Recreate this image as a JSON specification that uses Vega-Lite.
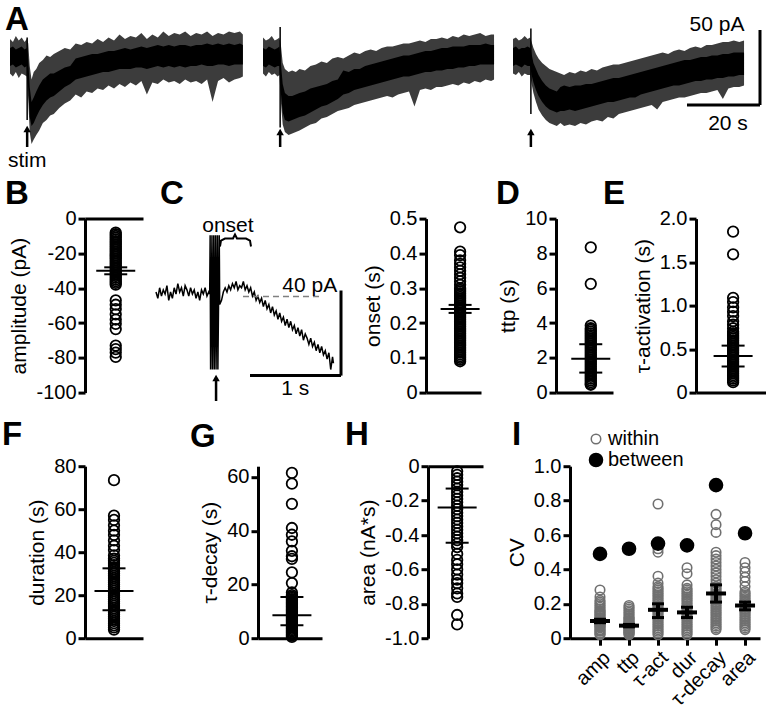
{
"$schema":"https://vega.github.io/schema/vega-lite/v6.json",
"padding":{"left":2,"top":4,"right":0,"bottom":0},
"spacing":5.6,
"config":{
 "view":{"stroke":null},
 "font":"Liberation Sans",
 "axis":{"domainColor":"black","domainWidth":3,"tickColor":"black","tickWidth":3,"tickSize":7,"labelFontSize":20,"labelColor":"black","labelFont":"Liberation Sans","titleFont":"Liberation Sans","titleFontSize":21,"titleFontWeight":"normal","titleColor":"black","grid":false,"labelPadding":2,"titlePadding":6,"labelOverlap":false,"labelFlush":false,"tickCount":12},
 "title":{"fontSize":33,"fontWeight":"bold","anchor":"start","frame":"group","offset":0,"baseline":"alphabetic","color":"black","font":"Liberation Sans"},
 "text":{"font":"Liberation Sans","fontSize":21,"color":"black"}
},
"datasets":{
"tr1":[
{"t":0,"lo":-11,"hi":12,"clo":-6,"chi":6},{"t":0.8,"lo":-13,"hi":10,"clo":-5,"chi":7},{"t":1.6,"lo":-10,"hi":14,"clo":-7,"chi":5},{"t":2.4,"lo":-14,"hi":11,"clo":-6,"chi":6},{"t":3.2,"lo":-11,"hi":13,"clo":-5,"chi":7},{"t":4.0,"lo":-12,"hi":10,"clo":-7,"chi":5},{"t":4.6,"lo":-13,"hi":12,"clo":-6,"chi":6},{"t":5.0,"lo":-28,"hi":9,"clo":-22,"chi":-2},{"t":5.4,"lo":-50,"hi":-6,"clo":-40,"chi":-20},{"t":5.9,"lo":-58,"hi":-15,"clo":-46,"chi":-30},{"t":6.5,"lo":-55,"hi":-10,"clo":-44,"chi":-27},{"t":7.2,"lo":-52,"hi":-8,"clo":-40,"chi":-23},{"t":8.0,"lo":-49,"hi":-4,"clo":-36,"chi":-19},{"t":9.0,"lo":-44,"hi":-2,"clo":-32,"chi":-15},{"t":10,"lo":-42,"hi":1,"clo":-29,"chi":-13},{"t":11,"lo":-39,"hi":0,"clo":-27,"chi":-11},{"t":12,"lo":-38,"hi":2,"clo":-26,"chi":-11},{"t":13.5,"lo":-34,"hi":4,"clo":-23,"chi":-9},{"t":15,"lo":-31,"hi":6,"clo":-20,"chi":-7},{"t":16.5,"lo":-29,"hi":5,"clo":-18,"chi":-6},{"t":18,"lo":-25,"hi":9,"clo":-15,"chi":-1},{"t":19.5,"lo":-27,"hi":8,"clo":-14,"chi":0},{"t":21,"lo":-23,"hi":10,"clo":-13,"chi":1},{"t":22.5,"lo":-24,"hi":9,"clo":-12,"chi":2},{"t":24,"lo":-21,"hi":12,"clo":-11,"chi":2},{"t":25.5,"lo":-22,"hi":10,"clo":-10,"chi":3},{"t":27,"lo":-19,"hi":13,"clo":-10,"chi":4},{"t":28.5,"lo":-21,"hi":11,"clo":-9,"chi":4},{"t":30,"lo":-18,"hi":15,"clo":-8,"chi":5},{"t":31.5,"lo":-20,"hi":12,"clo":-8,"chi":6},{"t":33,"lo":-17,"hi":14,"clo":-8,"chi":5},{"t":34.5,"lo":-19,"hi":13,"clo":-7,"chi":6},{"t":36,"lo":-16,"hi":16,"clo":-7,"chi":7},{"t":37.5,"lo":-25,"hi":12,"clo":-8,"chi":6},{"t":39,"lo":-17,"hi":15,"clo":-7,"chi":7},{"t":40.5,"lo":-18,"hi":13,"clo":-6,"chi":8},{"t":42,"lo":-15,"hi":17,"clo":-7,"chi":7},{"t":43.5,"lo":-17,"hi":14,"clo":-6,"chi":8},{"t":45,"lo":-16,"hi":16,"clo":-7,"chi":7},{"t":46.5,"lo":-18,"hi":15,"clo":-6,"chi":8},{"t":48,"lo":-15,"hi":17,"clo":-7,"chi":8},{"t":49.5,"lo":-17,"hi":14,"clo":-6,"chi":7},{"t":51,"lo":-16,"hi":16,"clo":-6,"chi":8},{"t":52.5,"lo":-18,"hi":15,"clo":-5,"chi":8},{"t":54,"lo":-15,"hi":17,"clo":-6,"chi":9},{"t":55.5,"lo":-30,"hi":14,"clo":-6,"chi":8},{"t":57,"lo":-16,"hi":16,"clo":-5,"chi":9},{"t":58.5,"lo":-14,"hi":15,"clo":-5,"chi":8},{"t":60,"lo":-17,"hi":17,"clo":-6,"chi":9},{"t":61.5,"lo":-15,"hi":16,"clo":-5,"chi":8},{"t":63,"lo":-14,"hi":17,"clo":-5,"chi":9},{"t":63.8,"lo":-13,"hi":15,"clo":-5,"chi":8}],
"tr2":[
{"t":0,"lo":-11,"hi":13,"clo":-6,"chi":6},{"t":0.8,"lo":-13,"hi":11,"clo":-7,"chi":5},{"t":1.6,"lo":-10,"hi":12,"clo":-5,"chi":7},{"t":2.4,"lo":-12,"hi":14,"clo":-6,"chi":6},{"t":3.2,"lo":-11,"hi":11,"clo":-7,"chi":5},{"t":4.0,"lo":-13,"hi":12,"clo":-6,"chi":6},{"t":4.5,"lo":-12,"hi":13,"clo":-6,"chi":7},{"t":4.9,"lo":-30,"hi":8,"clo":-24,"chi":-4},{"t":5.4,"lo":-45,"hi":-4,"clo":-37,"chi":-18},{"t":6.0,"lo":-50,"hi":-8,"clo":-42,"chi":-24},{"t":7.0,"lo":-52,"hi":-10,"clo":-43,"chi":-26},{"t":8.0,"lo":-51,"hi":-9,"clo":-42,"chi":-26},{"t":9.0,"lo":-50,"hi":-10,"clo":-41,"chi":-25},{"t":10,"lo":-49,"hi":-8,"clo":-40,"chi":-24},{"t":11.5,"lo":-47,"hi":-9,"clo":-39,"chi":-23},{"t":13,"lo":-45,"hi":-6,"clo":-37,"chi":-21},{"t":14.5,"lo":-44,"hi":-5,"clo":-35,"chi":-20},{"t":16,"lo":-41,"hi":-3,"clo":-33,"chi":-19},{"t":17.5,"lo":-40,"hi":-4,"clo":-32,"chi":-18},{"t":19,"lo":-38,"hi":-1,"clo":-30,"chi":-16},{"t":20.5,"lo":-36,"hi":0,"clo":-28,"chi":-15},{"t":22,"lo":-35,"hi":-1,"clo":-25,"chi":-9},{"t":23.5,"lo":-34,"hi":1,"clo":-24,"chi":-10},{"t":25,"lo":-32,"hi":3,"clo":-22,"chi":-8},{"t":26.5,"lo":-31,"hi":2,"clo":-21,"chi":-8},{"t":28,"lo":-30,"hi":4,"clo":-20,"chi":-6},{"t":29.5,"lo":-29,"hi":5,"clo":-19,"chi":-5},{"t":31,"lo":-28,"hi":4,"clo":-18,"chi":-4},{"t":32.5,"lo":-27,"hi":6,"clo":-17,"chi":-3},{"t":34,"lo":-26,"hi":7,"clo":-16,"chi":-2},{"t":35.5,"lo":-27,"hi":7,"clo":-15,"chi":-1},{"t":37,"lo":-25,"hi":8,"clo":-14,"chi":0},{"t":38.5,"lo":-24,"hi":9,"clo":-13,"chi":1},{"t":40,"lo":-23,"hi":9,"clo":-13,"chi":1},{"t":41.5,"lo":-33,"hi":10,"clo":-12,"chi":2},{"t":43,"lo":-22,"hi":11,"clo":-11,"chi":3},{"t":44.5,"lo":-21,"hi":10,"clo":-10,"chi":4},{"t":46,"lo":-22,"hi":12,"clo":-10,"chi":4},{"t":47.5,"lo":-20,"hi":12,"clo":-9,"chi":5},{"t":49,"lo":-20,"hi":13,"clo":-9,"chi":6},{"t":50.5,"lo":-19,"hi":12,"clo":-8,"chi":6},{"t":52,"lo":-18,"hi":14,"clo":-8,"chi":7},{"t":53.5,"lo":-19,"hi":13,"clo":-7,"chi":7},{"t":55,"lo":-17,"hi":15,"clo":-7,"chi":7},{"t":56.5,"lo":-18,"hi":14,"clo":-6,"chi":8},{"t":58,"lo":-16,"hi":15,"clo":-6,"chi":8},{"t":59.5,"lo":-17,"hi":16,"clo":-5,"chi":8},{"t":61,"lo":-15,"hi":14,"clo":-5,"chi":9},{"t":62.5,"lo":-16,"hi":15,"clo":-5,"chi":8},{"t":63.3,"lo":-15,"hi":15,"clo":-5,"chi":8}],
"tr3":[
{"t":0,"lo":-11,"hi":12,"clo":-6,"chi":6},{"t":0.8,"lo":-12,"hi":13,"clo":-5,"chi":7},{"t":1.6,"lo":-10,"hi":11,"clo":-6,"chi":5},{"t":2.4,"lo":-13,"hi":12,"clo":-7,"chi":6},{"t":3.2,"lo":-11,"hi":14,"clo":-5,"chi":6},{"t":4.0,"lo":-12,"hi":12,"clo":-6,"chi":7},{"t":4.7,"lo":-12,"hi":13,"clo":-6,"chi":6},{"t":5.1,"lo":-18,"hi":10,"clo":-12,"chi":2},{"t":5.6,"lo":-24,"hi":6,"clo":-17,"chi":-4},{"t":6.3,"lo":-30,"hi":2,"clo":-22,"chi":-8},{"t":7.0,"lo":-35,"hi":-1,"clo":-26,"chi":-12},{"t":8.0,"lo":-39,"hi":-4,"clo":-30,"chi":-16},{"t":9.0,"lo":-42,"hi":-6,"clo":-33,"chi":-19},{"t":10,"lo":-44,"hi":-8,"clo":-35,"chi":-21},{"t":11,"lo":-45,"hi":-9,"clo":-36,"chi":-22},{"t":12,"lo":-46,"hi":-10,"clo":-37,"chi":-23},{"t":13,"lo":-44,"hi":-11,"clo":-36,"chi":-20},{"t":14,"lo":-46,"hi":-12,"clo":-36,"chi":-19},{"t":15.5,"lo":-45,"hi":-10,"clo":-35,"chi":-20},{"t":17,"lo":-46,"hi":-11,"clo":-36,"chi":-19},{"t":18.5,"lo":-44,"hi":-9,"clo":-35,"chi":-19},{"t":20,"lo":-45,"hi":-10,"clo":-34,"chi":-18},{"t":21.5,"lo":-43,"hi":-8,"clo":-33,"chi":-18},{"t":23,"lo":-42,"hi":-9,"clo":-32,"chi":-17},{"t":24.5,"lo":-43,"hi":-7,"clo":-31,"chi":-16},{"t":26,"lo":-40,"hi":-6,"clo":-30,"chi":-15},{"t":27.5,"lo":-41,"hi":-5,"clo":-30,"chi":-14},{"t":29,"lo":-38,"hi":-5,"clo":-29,"chi":-14},{"t":30.5,"lo":-37,"hi":-4,"clo":-28,"chi":-13},{"t":32,"lo":-36,"hi":-3,"clo":-27,"chi":-12},{"t":33.5,"lo":-35,"hi":-2,"clo":-27,"chi":-11},{"t":35,"lo":-34,"hi":-1,"clo":-25,"chi":-10},{"t":36.5,"lo":-33,"hi":0,"clo":-24,"chi":-9},{"t":38,"lo":-32,"hi":1,"clo":-23,"chi":-8},{"t":39.5,"lo":-35,"hi":2,"clo":-22,"chi":-7},{"t":41,"lo":-30,"hi":3,"clo":-21,"chi":-6},{"t":42.5,"lo":-29,"hi":2,"clo":-20,"chi":-5},{"t":44,"lo":-28,"hi":4,"clo":-19,"chi":-4},{"t":45.5,"lo":-27,"hi":5,"clo":-19,"chi":-3},{"t":47,"lo":-27,"hi":4,"clo":-18,"chi":-2},{"t":48.5,"lo":-26,"hi":6,"clo":-17,"chi":-2},{"t":50,"lo":-25,"hi":7,"clo":-16,"chi":-1},{"t":51.5,"lo":-24,"hi":6,"clo":-16,"chi":0},{"t":53,"lo":-24,"hi":8,"clo":-15,"chi":0},{"t":54.5,"lo":-23,"hi":8,"clo":-15,"chi":1},{"t":56,"lo":-22,"hi":9,"clo":-14,"chi":1},{"t":57.5,"lo":-28,"hi":10,"clo":-14,"chi":2},{"t":59,"lo":-21,"hi":10,"clo":-13,"chi":2},{"t":60.5,"lo":-20,"hi":11,"clo":-13,"chi":3},{"t":62,"lo":-20,"hi":10,"clo":-12,"chi":3},{"t":63.3,"lo":-19,"hi":11,"clo":-12,"chi":3}],
"ctr":[
{"t":0,"v":1},{"t":0.02,"v":-2},{"t":0.04,"v":3},{"t":0.06,"v":-1},{"t":0.08,"v":2},{"t":0.1,"v":0},{"t":0.12,"v":4},{"t":0.14,"v":-3},{"t":0.16,"v":1},{"t":0.18,"v":-2},{"t":0.2,"v":3},{"t":0.22,"v":0},{"t":0.24,"v":5},{"t":0.26,"v":1},{"t":0.28,"v":3},{"t":0.3,"v":-1},{"t":0.32,"v":4},{"t":0.34,"v":2},{"t":0.36,"v":-1},{"t":0.38,"v":3},{"t":0.4,"v":0},{"t":0.42,"v":2},{"t":0.44,"v":-2},{"t":0.46,"v":1},{"t":0.48,"v":-3},{"t":0.5,"v":2},{"t":0.52,"v":0},{"t":0.54,"v":3},{"t":0.56,"v":-1},{"t":0.58,"v":1},{"t":0.59,"v":0},{"t":0.595,"v":28},{"t":0.6,"v":-36},{"t":0.615,"v":28},{"t":0.62,"v":-36},{"t":0.635,"v":28},{"t":0.64,"v":-36},{"t":0.655,"v":28},{"t":0.66,"v":-36},{"t":0.675,"v":28},{"t":0.68,"v":-36},{"t":0.695,"v":28},{"t":0.7,"v":-5},{"t":0.72,"v":-3},{"t":0.74,"v":1},{"t":0.76,"v":3},{"t":0.78,"v":1},{"t":0.8,"v":4},{"t":0.82,"v":2},{"t":0.84,"v":5},{"t":0.86,"v":3},{"t":0.88,"v":6},{"t":0.9,"v":2},{"t":0.92,"v":4},{"t":0.94,"v":3},{"t":0.96,"v":6},{"t":0.98,"v":2},{"t":1.0,"v":4},{"t":1.02,"v":1},{"t":1.04,"v":3},{"t":1.06,"v":-1},{"t":1.08,"v":1},{"t":1.1,"v":-3},{"t":1.12,"v":-1},{"t":1.14,"v":-4},{"t":1.16,"v":-2},{"t":1.18,"v":-6},{"t":1.2,"v":-3},{"t":1.22,"v":-7},{"t":1.24,"v":-5},{"t":1.26,"v":-9},{"t":1.28,"v":-6},{"t":1.3,"v":-10},{"t":1.32,"v":-8},{"t":1.34,"v":-12},{"t":1.36,"v":-9},{"t":1.38,"v":-13},{"t":1.4,"v":-11},{"t":1.42,"v":-15},{"t":1.44,"v":-12},{"t":1.46,"v":-16},{"t":1.48,"v":-13},{"t":1.5,"v":-17},{"t":1.52,"v":-15},{"t":1.54,"v":-19},{"t":1.56,"v":-16},{"t":1.58,"v":-20},{"t":1.6,"v":-17},{"t":1.62,"v":-22},{"t":1.64,"v":-19},{"t":1.66,"v":-21},{"t":1.68,"v":-24},{"t":1.7,"v":-21},{"t":1.72,"v":-25},{"t":1.74,"v":-23},{"t":1.76,"v":-27},{"t":1.78,"v":-24},{"t":1.8,"v":-28},{"t":1.82,"v":-25},{"t":1.84,"v":-29},{"t":1.86,"v":-27},{"t":1.88,"v":-31},{"t":1.9,"v":-28},{"t":1.92,"v":-36},{"t":1.94,"v":-30},{"t":1.95,"v":-33}],
"brace":[{"t":0.703,"v":22.7},{"t":0.714,"v":25.5},{"t":0.758,"v":26.5},{"t":0.846,"v":26.5},{"t":0.868,"v":28.4},{"t":0.89,"v":26.5},{"t":0.989,"v":26.5},{"t":1.033,"v":25.5},{"t":1.044,"v":22.7}],
"pts":[
{"p":"amp","v":-8},{"p":"amp","v":-9},{"p":"amp","v":-10},{"p":"amp","v":-11},{"p":"amp","v":-12},{"p":"amp","v":-13},{"p":"amp","v":-14},{"p":"amp","v":-15},{"p":"amp","v":-16},{"p":"amp","v":-17},{"p":"amp","v":-18},{"p":"amp","v":-19},{"p":"amp","v":-20},{"p":"amp","v":-21},{"p":"amp","v":-22},{"p":"amp","v":-23},{"p":"amp","v":-24},{"p":"amp","v":-25},{"p":"amp","v":-26},{"p":"amp","v":-27},{"p":"amp","v":-28},{"p":"amp","v":-29},{"p":"amp","v":-30},{"p":"amp","v":-31},{"p":"amp","v":-32},{"p":"amp","v":-33},{"p":"amp","v":-34},{"p":"amp","v":-35},{"p":"amp","v":-36},{"p":"amp","v":-37},{"p":"amp","v":-38},{"p":"amp","v":-47},{"p":"amp","v":-49.5},{"p":"amp","v":-52},{"p":"amp","v":-55},{"p":"amp","v":-58},{"p":"amp","v":-60.5},{"p":"amp","v":-63.5},{"p":"amp","v":-73},{"p":"amp","v":-75},{"p":"amp","v":-77},{"p":"amp","v":-79.5},
{"p":"on","v":0.475},{"p":"on","v":0.405},{"p":"on","v":0.395},{"p":"on","v":0.38},{"p":"on","v":0.37},{"p":"on","v":0.36},{"p":"on","v":0.35},{"p":"on","v":0.34},{"p":"on","v":0.33},{"p":"on","v":0.32},{"p":"on","v":0.31},{"p":"on","v":0.3},{"p":"on","v":0.295},{"p":"on","v":0.29},{"p":"on","v":0.285},{"p":"on","v":0.28},{"p":"on","v":0.275},{"p":"on","v":0.27},{"p":"on","v":0.265},{"p":"on","v":0.26},{"p":"on","v":0.255},{"p":"on","v":0.25},{"p":"on","v":0.245},{"p":"on","v":0.24},{"p":"on","v":0.235},{"p":"on","v":0.23},{"p":"on","v":0.225},{"p":"on","v":0.22},{"p":"on","v":0.215},{"p":"on","v":0.21},{"p":"on","v":0.205},{"p":"on","v":0.2},{"p":"on","v":0.195},{"p":"on","v":0.19},{"p":"on","v":0.185},{"p":"on","v":0.18},{"p":"on","v":0.175},{"p":"on","v":0.17},{"p":"on","v":0.165},{"p":"on","v":0.16},{"p":"on","v":0.155},{"p":"on","v":0.15},{"p":"on","v":0.145},{"p":"on","v":0.14},{"p":"on","v":0.135},{"p":"on","v":0.13},{"p":"on","v":0.125},{"p":"on","v":0.12},{"p":"on","v":0.115},{"p":"on","v":0.11},{"p":"on","v":0.105},{"p":"on","v":0.1},{"p":"on","v":0.095},{"p":"on","v":0.09},
{"p":"ttp","v":8.35},{"p":"ttp","v":6.25},{"p":"ttp","v":3.85},{"p":"ttp","v":3.7},{"p":"ttp","v":3.6},{"p":"ttp","v":3.5},{"p":"ttp","v":3.4},{"p":"ttp","v":3.3},{"p":"ttp","v":3.2},{"p":"ttp","v":3.1},{"p":"ttp","v":3.0},{"p":"ttp","v":2.9},{"p":"ttp","v":2.8},{"p":"ttp","v":2.7},{"p":"ttp","v":2.6},{"p":"ttp","v":2.5},{"p":"ttp","v":2.4},{"p":"ttp","v":2.3},{"p":"ttp","v":2.2},{"p":"ttp","v":2.1},{"p":"ttp","v":2.0},{"p":"ttp","v":1.9},{"p":"ttp","v":1.8},{"p":"ttp","v":1.7},{"p":"ttp","v":1.6},{"p":"ttp","v":1.5},{"p":"ttp","v":1.4},{"p":"ttp","v":1.3},{"p":"ttp","v":1.2},{"p":"ttp","v":1.1},{"p":"ttp","v":1.0},{"p":"ttp","v":0.9},{"p":"ttp","v":0.8},{"p":"ttp","v":0.7},{"p":"ttp","v":0.6},{"p":"ttp","v":0.5},{"p":"ttp","v":0.45},
{"p":"ta","v":1.85},{"p":"ta","v":1.59},{"p":"ta","v":1.09},{"p":"ta","v":1.04},{"p":"ta","v":0.98},{"p":"ta","v":0.93},{"p":"ta","v":0.88},{"p":"ta","v":0.82},{"p":"ta","v":0.78},{"p":"ta","v":0.74},{"p":"ta","v":0.7},{"p":"ta","v":0.68},{"p":"ta","v":0.66},{"p":"ta","v":0.64},{"p":"ta","v":0.62},{"p":"ta","v":0.6},{"p":"ta","v":0.58},{"p":"ta","v":0.56},{"p":"ta","v":0.54},{"p":"ta","v":0.52},{"p":"ta","v":0.5},{"p":"ta","v":0.48},{"p":"ta","v":0.46},{"p":"ta","v":0.44},{"p":"ta","v":0.42},{"p":"ta","v":0.4},{"p":"ta","v":0.38},{"p":"ta","v":0.36},{"p":"ta","v":0.34},{"p":"ta","v":0.32},{"p":"ta","v":0.3},{"p":"ta","v":0.28},{"p":"ta","v":0.26},{"p":"ta","v":0.24},{"p":"ta","v":0.22},{"p":"ta","v":0.2},{"p":"ta","v":0.18},{"p":"ta","v":0.16},{"p":"ta","v":0.14},{"p":"ta","v":0.12},
{"p":"du","v":73.5},{"p":"du","v":57},{"p":"du","v":55},{"p":"du","v":52.5},{"p":"du","v":50},{"p":"du","v":48},{"p":"du","v":45.5},{"p":"du","v":43},{"p":"du","v":41},{"p":"du","v":38.5},{"p":"du","v":37},{"p":"du","v":36},{"p":"du","v":35},{"p":"du","v":34},{"p":"du","v":33},{"p":"du","v":32},{"p":"du","v":31},{"p":"du","v":30},{"p":"du","v":29},{"p":"du","v":28},{"p":"du","v":27},{"p":"du","v":26},{"p":"du","v":25},{"p":"du","v":24},{"p":"du","v":23},{"p":"du","v":22},{"p":"du","v":21},{"p":"du","v":20},{"p":"du","v":19},{"p":"du","v":18},{"p":"du","v":17},{"p":"du","v":16},{"p":"du","v":15},{"p":"du","v":14},{"p":"du","v":13},{"p":"du","v":12},{"p":"du","v":11},{"p":"du","v":10},{"p":"du","v":9},{"p":"du","v":8},{"p":"du","v":7},{"p":"du","v":6},{"p":"du","v":5},{"p":"du","v":4},
{"p":"td","v":61.5},{"p":"td","v":57.5},{"p":"td","v":50},{"p":"td","v":41},{"p":"td","v":38.5},{"p":"td","v":36},{"p":"td","v":32.5},{"p":"td","v":30.5},{"p":"td","v":29.5},{"p":"td","v":24.5},{"p":"td","v":20.5},{"p":"td","v":17},{"p":"td","v":16},{"p":"td","v":15.5},{"p":"td","v":15},{"p":"td","v":14.5},{"p":"td","v":14},{"p":"td","v":13.5},{"p":"td","v":13},{"p":"td","v":12.5},{"p":"td","v":12},{"p":"td","v":11.5},{"p":"td","v":11},{"p":"td","v":10.5},{"p":"td","v":10},{"p":"td","v":9.5},{"p":"td","v":9},{"p":"td","v":8.5},{"p":"td","v":8},{"p":"td","v":7.5},{"p":"td","v":7},{"p":"td","v":6.5},{"p":"td","v":6},{"p":"td","v":5.5},{"p":"td","v":5},{"p":"td","v":4.5},{"p":"td","v":4},{"p":"td","v":3.5},{"p":"td","v":3},{"p":"td","v":2.5},{"p":"td","v":2},{"p":"td","v":1.5},{"p":"td","v":1},{"p":"td","v":0.5},
{"p":"ar","v":-0.03},{"p":"ar","v":-0.05},{"p":"ar","v":-0.07},{"p":"ar","v":-0.09},{"p":"ar","v":-0.11},{"p":"ar","v":-0.13},{"p":"ar","v":-0.15},{"p":"ar","v":-0.17},{"p":"ar","v":-0.19},{"p":"ar","v":-0.21},{"p":"ar","v":-0.23},{"p":"ar","v":-0.25},{"p":"ar","v":-0.27},{"p":"ar","v":-0.29},{"p":"ar","v":-0.31},{"p":"ar","v":-0.33},{"p":"ar","v":-0.35},{"p":"ar","v":-0.37},{"p":"ar","v":-0.39},{"p":"ar","v":-0.41},{"p":"ar","v":-0.43},{"p":"ar","v":-0.45},{"p":"ar","v":-0.47},{"p":"ar","v":-0.51},{"p":"ar","v":-0.545},{"p":"ar","v":-0.57},{"p":"ar","v":-0.6},{"p":"ar","v":-0.63},{"p":"ar","v":-0.66},{"p":"ar","v":-0.68},{"p":"ar","v":-0.71},{"p":"ar","v":-0.74},{"p":"ar","v":-0.76},{"p":"ar","v":-0.865},{"p":"ar","v":-0.92}],
"st":[
{"p":"amp","s":"m","v":-30},{"p":"amp","s":"e","v":-28},{"p":"amp","s":"e","v":-32},
{"p":"on","s":"m","v":0.24},{"p":"on","s":"e","v":0.252},{"p":"on","s":"e","v":0.229},
{"p":"ttp","s":"m","v":1.95},{"p":"ttp","s":"e","v":2.78},{"p":"ttp","s":"e","v":1.15},
{"p":"ta","s":"m","v":0.42},{"p":"ta","s":"e","v":0.54},{"p":"ta","s":"e","v":0.3},
{"p":"du","s":"m","v":22},{"p":"du","s":"e","v":32.5},{"p":"du","s":"e","v":13},
{"p":"td","s":"m","v":8.5},{"p":"td","s":"e","v":15.3},{"p":"td","s":"e","v":4.8},
{"p":"ar","s":"m","v":-0.24},{"p":"ar","s":"e","v":-0.13},{"p":"ar","s":"e","v":-0.445}],
"cv":[
{"c":"amp","k":"within","v":0.28},{"c":"amp","k":"within","v":0.24},{"c":"amp","k":"within","v":0.22},{"c":"amp","k":"within","v":0.21},{"c":"amp","k":"within","v":0.2},{"c":"amp","k":"within","v":0.19},{"c":"amp","k":"within","v":0.18},{"c":"amp","k":"within","v":0.17},{"c":"amp","k":"within","v":0.16},{"c":"amp","k":"within","v":0.155},{"c":"amp","k":"within","v":0.15},{"c":"amp","k":"within","v":0.14},{"c":"amp","k":"within","v":0.135},{"c":"amp","k":"within","v":0.13},{"c":"amp","k":"within","v":0.12},{"c":"amp","k":"within","v":0.115},{"c":"amp","k":"within","v":0.11},{"c":"amp","k":"within","v":0.1},{"c":"amp","k":"within","v":0.095},{"c":"amp","k":"within","v":0.09},{"c":"amp","k":"within","v":0.085},{"c":"amp","k":"within","v":0.08},{"c":"amp","k":"within","v":0.075},{"c":"amp","k":"within","v":0.07},{"c":"amp","k":"within","v":0.065},{"c":"amp","k":"within","v":0.06},{"c":"amp","k":"within","v":0.05},{"c":"amp","k":"within","v":0.045},{"c":"amp","k":"within","v":0.04},{"c":"amp","k":"within","v":0.03},{"c":"amp","k":"within","v":0.025},{"c":"amp","k":"within","v":0.02},
{"c":"ttp","k":"within","v":0.19},{"c":"ttp","k":"within","v":0.18},{"c":"ttp","k":"within","v":0.17},{"c":"ttp","k":"within","v":0.16},{"c":"ttp","k":"within","v":0.15},{"c":"ttp","k":"within","v":0.14},{"c":"ttp","k":"within","v":0.13},{"c":"ttp","k":"within","v":0.12},{"c":"ttp","k":"within","v":0.115},{"c":"ttp","k":"within","v":0.11},{"c":"ttp","k":"within","v":0.1},{"c":"ttp","k":"within","v":0.095},{"c":"ttp","k":"within","v":0.09},{"c":"ttp","k":"within","v":0.085},{"c":"ttp","k":"within","v":0.08},{"c":"ttp","k":"within","v":0.075},{"c":"ttp","k":"within","v":0.07},{"c":"ttp","k":"within","v":0.065},{"c":"ttp","k":"within","v":0.06},{"c":"ttp","k":"within","v":0.055},{"c":"ttp","k":"within","v":0.05},{"c":"ttp","k":"within","v":0.045},{"c":"ttp","k":"within","v":0.04},{"c":"ttp","k":"within","v":0.035},{"c":"ttp","k":"within","v":0.03},{"c":"ttp","k":"within","v":0.025},{"c":"ttp","k":"within","v":0.02},
{"c":"τ-act","k":"within","v":0.78},{"c":"τ-act","k":"within","v":0.52},{"c":"τ-act","k":"within","v":0.5},{"c":"τ-act","k":"within","v":0.36},{"c":"τ-act","k":"within","v":0.32},{"c":"τ-act","k":"within","v":0.3},{"c":"τ-act","k":"within","v":0.29},{"c":"τ-act","k":"within","v":0.28},{"c":"τ-act","k":"within","v":0.27},{"c":"τ-act","k":"within","v":0.26},{"c":"τ-act","k":"within","v":0.25},{"c":"τ-act","k":"within","v":0.24},{"c":"τ-act","k":"within","v":0.23},{"c":"τ-act","k":"within","v":0.22},{"c":"τ-act","k":"within","v":0.21},{"c":"τ-act","k":"within","v":0.2},{"c":"τ-act","k":"within","v":0.19},{"c":"τ-act","k":"within","v":0.18},{"c":"τ-act","k":"within","v":0.17},{"c":"τ-act","k":"within","v":0.16},{"c":"τ-act","k":"within","v":0.15},{"c":"τ-act","k":"within","v":0.14},{"c":"τ-act","k":"within","v":0.13},{"c":"τ-act","k":"within","v":0.12},{"c":"τ-act","k":"within","v":0.11},{"c":"τ-act","k":"within","v":0.1},{"c":"τ-act","k":"within","v":0.09},{"c":"τ-act","k":"within","v":0.08},{"c":"τ-act","k":"within","v":0.07},{"c":"τ-act","k":"within","v":0.06},{"c":"τ-act","k":"within","v":0.05},{"c":"τ-act","k":"within","v":0.04},{"c":"τ-act","k":"within","v":0.03},{"c":"τ-act","k":"within","v":0.02},
{"c":"dur","k":"within","v":0.41},{"c":"dur","k":"within","v":0.375},{"c":"dur","k":"within","v":0.31},{"c":"dur","k":"within","v":0.29},{"c":"dur","k":"within","v":0.28},{"c":"dur","k":"within","v":0.27},{"c":"dur","k":"within","v":0.26},{"c":"dur","k":"within","v":0.25},{"c":"dur","k":"within","v":0.24},{"c":"dur","k":"within","v":0.23},{"c":"dur","k":"within","v":0.22},{"c":"dur","k":"within","v":0.21},{"c":"dur","k":"within","v":0.2},{"c":"dur","k":"within","v":0.19},{"c":"dur","k":"within","v":0.18},{"c":"dur","k":"within","v":0.17},{"c":"dur","k":"within","v":0.16},{"c":"dur","k":"within","v":0.15},{"c":"dur","k":"within","v":0.14},{"c":"dur","k":"within","v":0.13},{"c":"dur","k":"within","v":0.12},{"c":"dur","k":"within","v":0.11},{"c":"dur","k":"within","v":0.1},{"c":"dur","k":"within","v":0.09},{"c":"dur","k":"within","v":0.08},{"c":"dur","k":"within","v":0.07},{"c":"dur","k":"within","v":0.06},{"c":"dur","k":"within","v":0.05},{"c":"dur","k":"within","v":0.04},{"c":"dur","k":"within","v":0.03},{"c":"dur","k":"within","v":0.02},
{"c":"τ-decay","k":"within","v":0.72},{"c":"τ-decay","k":"within","v":0.66},{"c":"τ-decay","k":"within","v":0.615},{"c":"τ-decay","k":"within","v":0.5},{"c":"τ-decay","k":"within","v":0.48},{"c":"τ-decay","k":"within","v":0.46},{"c":"τ-decay","k":"within","v":0.44},{"c":"τ-decay","k":"within","v":0.42},{"c":"τ-decay","k":"within","v":0.4},{"c":"τ-decay","k":"within","v":0.38},{"c":"τ-decay","k":"within","v":0.36},{"c":"τ-decay","k":"within","v":0.34},{"c":"τ-decay","k":"within","v":0.32},{"c":"τ-decay","k":"within","v":0.3},{"c":"τ-decay","k":"within","v":0.29},{"c":"τ-decay","k":"within","v":0.28},{"c":"τ-decay","k":"within","v":0.27},{"c":"τ-decay","k":"within","v":0.26},{"c":"τ-decay","k":"within","v":0.25},{"c":"τ-decay","k":"within","v":0.24},{"c":"τ-decay","k":"within","v":0.23},{"c":"τ-decay","k":"within","v":0.22},{"c":"τ-decay","k":"within","v":0.21},{"c":"τ-decay","k":"within","v":0.2},{"c":"τ-decay","k":"within","v":0.19},{"c":"τ-decay","k":"within","v":0.18},{"c":"τ-decay","k":"within","v":0.17},{"c":"τ-decay","k":"within","v":0.16},{"c":"τ-decay","k":"within","v":0.15},{"c":"τ-decay","k":"within","v":0.14},{"c":"τ-decay","k":"within","v":0.13},{"c":"τ-decay","k":"within","v":0.12},{"c":"τ-decay","k":"within","v":0.11},{"c":"τ-decay","k":"within","v":0.1},{"c":"τ-decay","k":"within","v":0.09},{"c":"τ-decay","k":"within","v":0.08},{"c":"τ-decay","k":"within","v":0.07},{"c":"τ-decay","k":"within","v":0.06},{"c":"τ-decay","k":"within","v":0.05},
{"c":"area","k":"within","v":0.44},{"c":"area","k":"within","v":0.41},{"c":"area","k":"within","v":0.385},{"c":"area","k":"within","v":0.355},{"c":"area","k":"within","v":0.33},{"c":"area","k":"within","v":0.3},{"c":"area","k":"within","v":0.27},{"c":"area","k":"within","v":0.26},{"c":"area","k":"within","v":0.25},{"c":"area","k":"within","v":0.24},{"c":"area","k":"within","v":0.23},{"c":"area","k":"within","v":0.22},{"c":"area","k":"within","v":0.21},{"c":"area","k":"within","v":0.2},{"c":"area","k":"within","v":0.19},{"c":"area","k":"within","v":0.18},{"c":"area","k":"within","v":0.17},{"c":"area","k":"within","v":0.16},{"c":"area","k":"within","v":0.15},{"c":"area","k":"within","v":0.14},{"c":"area","k":"within","v":0.13},{"c":"area","k":"within","v":0.12},{"c":"area","k":"within","v":0.11},{"c":"area","k":"within","v":0.1},{"c":"area","k":"within","v":0.09},{"c":"area","k":"within","v":0.08},{"c":"area","k":"within","v":0.07},{"c":"area","k":"within","v":0.06},{"c":"area","k":"within","v":0.05},
{"c":"amp","k":"between","v":0.49},{"c":"ttp","k":"between","v":0.52},{"c":"τ-act","k":"between","v":0.55},{"c":"dur","k":"between","v":0.54},{"c":"τ-decay","k":"between","v":0.89},{"c":"area","k":"between","v":0.61}],
"cvs":[
{"c":"amp","m":0.1,"lo":0.09,"hi":0.11},{"c":"ttp","m":0.073,"lo":0.066,"hi":0.08},{"c":"τ-act","m":0.165,"lo":0.12,"hi":0.2},{"c":"dur","m":0.15,"lo":0.12,"hi":0.18},{"c":"τ-decay","m":0.26,"lo":0.21,"hi":0.31},{"c":"area","m":0.19,"lo":0.165,"hi":0.21}]
},
"vconcat":[
{"hconcat":[
{"width":178,"height":111,"title":{"text":"A","dx":-80,"dy":11},
 "layer":[
  {"data":{"name":"tr1"},"mark":{"type":"area","color":"#3c3c3c"},"encoding":{"x":{"field":"t","type":"quantitative","scale":{"domain":[20.548,69.315],"nice":false,"zero":false},"axis":null},"y":{"field":"lo","type":"quantitative","scale":{"domain":[-56,18],"nice":false,"zero":false},"axis":null},"y2":{"field":"hi"}}},
  {"data":{"name":"tr1"},"mark":{"type":"area","color":"black"},"encoding":{"x":{"field":"t","type":"quantitative"},"y":{"field":"clo","type":"quantitative"},"y2":{"field":"chi"}}},
  {"data":{"values":[{"t":4.7,"a":-42,"b":13}]},"mark":{"type":"rule","strokeWidth":1.5,"color":"black"},"encoding":{"x":{"field":"t","type":"quantitative"},"y":{"field":"a","type":"quantitative"},"y2":{"field":"b"}}},
  {"data":{"values":[{"t":4.7,"a":-60,"b":-48}]},"mark":{"type":"rule","strokeWidth":2.5,"color":"black"},"encoding":{"x":{"field":"t","type":"quantitative"},"y":{"field":"a","type":"quantitative"},"y2":{"field":"b"}}},
  {"data":{"values":[{"t":4.7,"b":-48}]},"mark":{"type":"point","shape":"triangle-up","filled":true,"size":55,"color":"black","opacity":1},"encoding":{"x":{"field":"t","type":"quantitative"},"y":{"field":"b","type":"quantitative"}}},
  {"data":{"values":[{"t":4.7,"y":-69,"s":"stim"}]},"mark":{"type":"text","baseline":"middle","align":"center"},"encoding":{"x":{"field":"t","type":"quantitative"},"y":{"field":"y","type":"quantitative"},"text":{"field":"s"}}}
 ]},
{"width":250,"height":111,
 "layer":[
  {"data":{"name":"tr2"},"mark":{"type":"area","color":"#3c3c3c"},"encoding":{"x":{"field":"t","type":"quantitative","scale":{"domain":[0,68.493],"nice":false,"zero":false},"axis":null},"y":{"field":"lo","type":"quantitative","scale":{"domain":[-56,18],"nice":false,"zero":false},"axis":null},"y2":{"field":"hi"}}},
  {"data":{"name":"tr2"},"mark":{"type":"area","color":"black"},"encoding":{"x":{"field":"t","type":"quantitative"},"y":{"field":"clo","type":"quantitative"},"y2":{"field":"chi"}}},
  {"data":{"values":[{"t":4.7,"a":-47,"b":20}]},"mark":{"type":"rule","strokeWidth":1.5,"color":"black"},"encoding":{"x":{"field":"t","type":"quantitative"},"y":{"field":"a","type":"quantitative"},"y2":{"field":"b"}}},
  {"data":{"values":[{"t":4.7,"a":-60,"b":-50}]},"mark":{"type":"rule","strokeWidth":2.5,"color":"black"},"encoding":{"x":{"field":"t","type":"quantitative"},"y":{"field":"a","type":"quantitative"},"y2":{"field":"b"}}},
  {"data":{"values":[{"t":4.7,"b":-50}]},"mark":{"type":"point","shape":"triangle-up","filled":true,"size":55,"color":"black","opacity":1},"encoding":{"x":{"field":"t","type":"quantitative"},"y":{"field":"b","type":"quantitative"}}}
 ]},
{"width":256,"height":111,
 "layer":[
  {"data":{"name":"tr3"},"mark":{"type":"area","color":"#3c3c3c"},"encoding":{"x":{"field":"t","type":"quantitative","scale":{"domain":[0,70.137],"nice":false,"zero":false},"axis":null},"y":{"field":"lo","type":"quantitative","scale":{"domain":[-56,18],"nice":false,"zero":false},"axis":null},"y2":{"field":"hi"}}},
  {"data":{"name":"tr3"},"mark":{"type":"area","color":"black"},"encoding":{"x":{"field":"t","type":"quantitative"},"y":{"field":"clo","type":"quantitative"},"y2":{"field":"chi"}}},
  {"data":{"values":[{"t":4.9,"a":-38,"b":19}]},"mark":{"type":"rule","strokeWidth":1.5,"color":"black"},"encoding":{"x":{"field":"t","type":"quantitative"},"y":{"field":"a","type":"quantitative"},"y2":{"field":"b"}}},
  {"data":{"values":[{"t":4.9,"a":-60,"b":-50}]},"mark":{"type":"rule","strokeWidth":2.5,"color":"black"},"encoding":{"x":{"field":"t","type":"quantitative"},"y":{"field":"a","type":"quantitative"},"y2":{"field":"b"}}},
  {"data":{"values":[{"t":4.9,"b":-50}]},"mark":{"type":"point","shape":"triangle-up","filled":true,"size":55,"color":"black","opacity":1},"encoding":{"x":{"field":"t","type":"quantitative"},"y":{"field":"b","type":"quantitative"}}},
  {"data":{"values":[{"t":67.67,"a":-32,"b":18}]},"mark":{"type":"rule","strokeWidth":3,"color":"black"},"encoding":{"x":{"field":"t","type":"quantitative"},"y":{"field":"a","type":"quantitative"},"y2":{"field":"b"}}},
  {"data":{"values":[{"t":47.67,"t2":67.67,"a":-32}]},"mark":{"type":"rule","strokeWidth":3,"color":"black"},"encoding":{"x":{"field":"t","type":"quantitative"},"x2":{"field":"t2"},"y":{"field":"a","type":"quantitative"}}},
  {"data":{"values":[{"t":55.9,"y":21.3,"s":"50 pA"},{"t":58.9,"y":-44.7,"s":"20 s"}]},"mark":{"type":"text","baseline":"middle","align":"center"},"encoding":{"x":{"field":"t","type":"quantitative"},"y":{"field":"y","type":"quantitative"},"text":{"field":"s"}}}
 ]}
],"spacing":0,"bounds":"flush"},
{"vconcat":[
{"hconcat":[
{"width":71,"height":174,"title":{"text":"B","dx":-80,"dy":6},
 "layer":[
  {"data":{"name":"pts"},"transform":[{"filter":"datum.p=='amp'"}],"mark":{"type":"point","filled":false,"color":"black","size":110,"strokeWidth":1.8,"opacity":1},"encoding":{"x":{"datum":"x","type":"nominal","scale":{"type":"point","range":[0,58],"padding":0,"align":0.53},"axis":{"orient":"top","labels":false,"ticks":false,"title":null}},"y":{"field":"v","type":"quantitative","scale":{"domain":[-100,0],"nice":false},"axis":{"values":[0,-20,-40,-60,-80,-100],"tickCount":12,"labelExpr":"'' + datum.value","labelOverlap":false,"title":"amplitude (pA)"}}}},
  {"data":{"name":"st"},"transform":[{"filter":"datum.p=='amp' && datum.s=='m'"}],"mark":{"type":"tick","orient":"horizontal","color":"black","thickness":2,"size":39,"opacity":1},"encoding":{"x":{"datum":"x","type":"nominal"},"y":{"field":"v","type":"quantitative"}}},
  {"data":{"name":"st"},"transform":[{"filter":"datum.p=='amp' && datum.s=='e'"}],"mark":{"type":"tick","orient":"horizontal","color":"black","thickness":2,"size":23,"opacity":1},"encoding":{"x":{"datum":"x","type":"nominal"},"y":{"field":"v","type":"quantitative"}}}
 ]},
{"width":270,"height":174,"title":{"text":"C","dx":4,"dy":0},
 "layer":[
  {"data":{"name":"ctr"},"mark":{"type":"line","color":"black","strokeWidth":1.5},"encoding":{"x":{"field":"t","type":"quantitative","scale":{"domain":[0,2.967],"nice":false,"zero":false},"axis":null},"y":{"field":"v","type":"quantitative","scale":{"domain":[-47,36],"nice":false,"zero":false},"axis":null}}},
  {"data":{"values":[{"t":0.956,"t2":1.835,"a":-1.2}]},"mark":{"type":"rule","strokeWidth":1.5,"color":"#808080","strokeDash":[6,4]},"encoding":{"x":{"field":"t","type":"quantitative"},"x2":{"field":"t2"},"y":{"field":"a","type":"quantitative"}}},
  {"data":{"name":"brace"},"mark":{"type":"line","color":"black","strokeWidth":2},"encoding":{"x":{"field":"t","type":"quantitative"},"y":{"field":"v","type":"quantitative"}}},
  {"data":{"values":[{"t":2.033,"a":-38.9,"b":1.7}]},"mark":{"type":"rule","strokeWidth":3,"color":"black"},"encoding":{"x":{"field":"t","type":"quantitative"},"y":{"field":"a","type":"quantitative"},"y2":{"field":"b"}}},
  {"data":{"values":[{"t":1.033,"t2":2.033,"a":-38.9}]},"mark":{"type":"rule","strokeWidth":3,"color":"black"},"encoding":{"x":{"field":"t","type":"quantitative"},"x2":{"field":"t2"},"y":{"field":"a","type":"quantitative"}}},
  {"data":{"values":[{"t":0.66,"a":-51,"b":-40}]},"mark":{"type":"rule","strokeWidth":2.5,"color":"black"},"encoding":{"x":{"field":"t","type":"quantitative"},"y":{"field":"a","type":"quantitative"},"y2":{"field":"b"}}},
  {"data":{"values":[{"t":0.66,"b":-40}]},"mark":{"type":"point","shape":"triangle-up","filled":true,"size":55,"color":"black","opacity":1},"encoding":{"x":{"field":"t","type":"quantitative"},"y":{"field":"b","type":"quantitative"}}},
  {"data":{"values":[{"t":1.69,"y":4,"s":"40 pA"},{"t":1.53,"y":-45.1,"s":"1 s"},{"t":0.79,"y":32.7,"s":"onset"}]},"mark":{"type":"text","baseline":"middle","align":"center"},"encoding":{"x":{"field":"t","type":"quantitative"},"y":{"field":"y","type":"quantitative"},"text":{"field":"s"}}}
 ]},
{"width":130,"height":174,
 "layer":[
  {"data":{"name":"pts"},"transform":[{"filter":"datum.p=='on'"}],"mark":{"type":"point","filled":false,"color":"black","size":110,"strokeWidth":1.8,"opacity":1},"encoding":{"x":{"datum":"x","type":"nominal","scale":{"type":"point","range":[0,55],"padding":0,"align":0.62},"axis":{"labels":false,"ticks":false,"title":null}},"y":{"field":"v","type":"quantitative","scale":{"domain":[0,0.5],"nice":false},"axis":{"values":[0,0.1,0.2,0.3,0.4,0.5],"tickCount":12,"labelExpr":"datum.value==0?'0':format(datum.value,'.1f')","labelOverlap":false,"title":"onset (s)"}}}},
  {"data":{"name":"st"},"transform":[{"filter":"datum.p=='on' && datum.s=='m'"}],"mark":{"type":"tick","orient":"horizontal","color":"black","thickness":2,"size":39,"opacity":1},"encoding":{"x":{"datum":"x","type":"nominal"},"y":{"field":"v","type":"quantitative"}}},
  {"data":{"name":"st"},"transform":[{"filter":"datum.p=='on' && datum.s=='e'"}],"mark":{"type":"tick","orient":"horizontal","color":"black","thickness":2,"size":23,"opacity":1},"encoding":{"x":{"datum":"x","type":"nominal"},"y":{"field":"v","type":"quantitative"}}}
 ]},
{"width":140,"height":174,"title":{"text":"D","dx":-60,"dy":6},
 "layer":[
  {"data":{"name":"pts"},"transform":[{"filter":"datum.p=='ttp'"}],"mark":{"type":"point","filled":false,"color":"black","size":110,"strokeWidth":1.8,"opacity":1},"encoding":{"x":{"datum":"x","type":"nominal","scale":{"type":"point","range":[0,57],"padding":0,"align":0.61},"axis":{"labels":false,"ticks":false,"title":null}},"y":{"field":"v","type":"quantitative","scale":{"domain":[0,10],"nice":false},"axis":{"values":[0,2,4,6,8,10],"tickCount":12,"labelOverlap":false,"title":"ttp (s)"}}}},
  {"data":{"name":"st"},"transform":[{"filter":"datum.p=='ttp' && datum.s=='m'"}],"mark":{"type":"tick","orient":"horizontal","color":"black","thickness":2,"size":39,"opacity":1},"encoding":{"x":{"datum":"x","type":"nominal"},"y":{"field":"v","type":"quantitative"}}},
  {"data":{"name":"st"},"transform":[{"filter":"datum.p=='ttp' && datum.s=='e'"}],"mark":{"type":"tick","orient":"horizontal","color":"black","thickness":2,"size":23,"opacity":1},"encoding":{"x":{"datum":"x","type":"nominal"},"y":{"field":"v","type":"quantitative"}}}
 ]},
{"width":73,"height":174,"title":{"text":"E","dx":-93,"dy":6},
 "layer":[
  {"data":{"name":"pts"},"transform":[{"filter":"datum.p=='ta'"}],"mark":{"type":"point","filled":false,"color":"black","size":110,"strokeWidth":1.8,"opacity":1},"encoding":{"x":{"datum":"x","type":"nominal","scale":{"type":"point","range":[0,70],"padding":0,"align":0.53},"axis":{"labels":false,"ticks":false,"title":null}},"y":{"field":"v","type":"quantitative","scale":{"domain":[0,2],"nice":false},"axis":{"values":[0,0.5,1,1.5,2],"tickCount":12,"labelExpr":"datum.value==0?'0':format(datum.value,'.1f')","labelOverlap":false,"title":"τ-activation (s)"}}}},
  {"data":{"name":"st"},"transform":[{"filter":"datum.p=='ta' && datum.s=='m'"}],"mark":{"type":"tick","orient":"horizontal","color":"black","thickness":2,"size":39,"opacity":1},"encoding":{"x":{"datum":"x","type":"nominal"},"y":{"field":"v","type":"quantitative"}}},
  {"data":{"name":"st"},"transform":[{"filter":"datum.p=='ta' && datum.s=='e'"}],"mark":{"type":"tick","orient":"horizontal","color":"black","thickness":2,"size":23,"opacity":1},"encoding":{"x":{"datum":"x","type":"nominal"},"y":{"field":"v","type":"quantitative"}}}
 ]}
],"spacing":0,"bounds":"flush"},
{"hconcat":[
{"width":173,"height":172,"title":{"text":"F","dx":-83,"dy":0},
 "layer":[
  {"data":{"name":"pts"},"transform":[{"filter":"datum.p=='du'"}],"mark":{"type":"point","filled":false,"color":"black","size":110,"strokeWidth":1.8,"opacity":1},"encoding":{"x":{"datum":"x","type":"nominal","scale":{"type":"point","range":[0,58],"padding":0,"align":0.5},"axis":{"labels":false,"ticks":false,"title":null}},"y":{"field":"v","type":"quantitative","scale":{"domain":[0,80],"nice":false},"axis":{"values":[0,20,40,60,80],"tickCount":12,"labelOverlap":false,"title":"duration (s)"}}}},
  {"data":{"name":"st"},"transform":[{"filter":"datum.p=='du' && datum.s=='m'"}],"mark":{"type":"tick","orient":"horizontal","color":"black","thickness":2,"size":39,"opacity":1},"encoding":{"x":{"datum":"x","type":"nominal"},"y":{"field":"v","type":"quantitative"}}},
  {"data":{"name":"st"},"transform":[{"filter":"datum.p=='du' && datum.s=='e'"}],"mark":{"type":"tick","orient":"horizontal","color":"black","thickness":2,"size":23,"opacity":1},"encoding":{"x":{"datum":"x","type":"nominal"},"y":{"field":"v","type":"quantitative"}}}
 ]},
{"width":170,"height":172,"title":{"text":"G","dx":-68,"dy":-6},
 "layer":[
  {"data":{"name":"pts"},"transform":[{"filter":"datum.p=='td'"}],"mark":{"type":"point","filled":false,"color":"black","size":110,"strokeWidth":1.8,"opacity":1},"encoding":{"x":{"datum":"x","type":"nominal","scale":{"type":"point","range":[0,64],"padding":0,"align":0.53},"axis":{"labels":false,"ticks":false,"title":null}},"y":{"field":"v","type":"quantitative","scale":{"domain":[0,64],"nice":false},"axis":{"values":[0,20,40,60],"tickCount":12,"labelOverlap":false,"title":"τ-decay (s)"}}}},
  {"data":{"name":"st"},"transform":[{"filter":"datum.p=='td' && datum.s=='m'"}],"mark":{"type":"tick","orient":"horizontal","color":"black","thickness":2,"size":39,"opacity":1},"encoding":{"x":{"datum":"x","type":"nominal"},"y":{"field":"v","type":"quantitative"}}},
  {"data":{"name":"st"},"transform":[{"filter":"datum.p=='td' && datum.s=='e'"}],"mark":{"type":"tick","orient":"horizontal","color":"black","thickness":2,"size":23,"opacity":1},"encoding":{"x":{"datum":"x","type":"nominal"},"y":{"field":"v","type":"quantitative"}}}
 ]},
{"width":142,"height":172,"title":{"text":"H","dx":-83,"dy":0},
 "layer":[
  {"data":{"name":"pts"},"transform":[{"filter":"datum.p=='ar'"}],"mark":{"type":"point","filled":false,"color":"black","size":110,"strokeWidth":1.8,"opacity":1},"encoding":{"x":{"datum":"x","type":"nominal","scale":{"type":"point","range":[0,55],"padding":0,"align":0.53},"axis":{"orient":"top","labels":false,"ticks":false,"title":null}},"y":{"field":"v","type":"quantitative","scale":{"domain":[-1,0],"nice":false},"axis":{"values":[0,-0.2,-0.4,-0.6,-0.8,-1],"tickCount":12,"labelExpr":"datum.value==-1?'-1.0':''+datum.value","labelOverlap":false,"title":"area (nA*s)"}}}},
  {"data":{"name":"st"},"transform":[{"filter":"datum.p=='ar' && datum.s=='m'"}],"mark":{"type":"tick","orient":"horizontal","color":"black","thickness":2,"size":39,"opacity":1},"encoding":{"x":{"datum":"x","type":"nominal"},"y":{"field":"v","type":"quantitative"}}},
  {"data":{"name":"st"},"transform":[{"filter":"datum.p=='ar' && datum.s=='e'"}],"mark":{"type":"tick","orient":"horizontal","color":"black","thickness":2,"size":23,"opacity":1},"encoding":{"x":{"datum":"x","type":"nominal"},"y":{"field":"v","type":"quantitative"}}}
 ]},
{"width":196,"height":172,"title":{"text":"I","dx":-58,"dy":0},
 "layer":[
  {"data":{"name":"cv"},"mark":{"type":"point","shape":"circle","filled":true,"strokeWidth":1.6,"opacity":1},"encoding":{
    "x":{"field":"c","type":"nominal","sort":null,"scale":{"type":"band","domain":["amp","ttp","τ-act","dur","τ-decay","area"],"range":[0,190],"paddingInner":0.5,"paddingOuter":0.525,"align":0.747},"axis":{"title":null,"labelAngle":-45,"labelAlign":"right","labelBaseline":"top","ticks":true,"labelPadding":2,"labelOverlap":false}},
    "y":{"field":"v","type":"quantitative","scale":{"domain":[0,1],"nice":false},"axis":{"values":[0,0.2,0.4,0.6,0.8,1],"tickCount":12,"labelExpr":"datum.value==0?'0':format(datum.value,'.1f')","labelOverlap":false,"title":"CV"}},
    "fill":{"field":"k","type":"nominal","scale":{"domain":["within","between"],"range":["transparent","black"]},"legend":{"orient":"none","legendX":501,"legendY":399,"title":null,"labelFontSize":20,"labelColor":"black","labelOffset":2,"rowPadding":1}},
    "stroke":{"field":"k","type":"nominal","scale":{"domain":["within","between"],"range":["#707070","black"]},"legend":{"orient":"none","legendX":501,"legendY":399,"title":null,"labelFontSize":20,"labelColor":"black","labelOffset":2,"rowPadding":1}},
    "size":{"field":"k","type":"nominal","scale":{"domain":["within","between"],"range":[90,170]},"legend":{"orient":"none","legendX":501,"legendY":399,"title":null,"labelFontSize":20,"labelColor":"black","labelOffset":2,"rowPadding":1}}}},
  {"data":{"name":"cvs"},"mark":{"type":"rule","strokeWidth":4,"color":"black"},"encoding":{"x":{"field":"c","type":"nominal"},"y":{"field":"lo","type":"quantitative"},"y2":{"field":"hi"}}},
  {"data":{"name":"cvs"},"mark":{"type":"tick","orient":"horizontal","color":"black","thickness":4,"size":20,"opacity":1},"encoding":{"x":{"field":"c","type":"nominal"},"y":{"field":"m","type":"quantitative"}}},
  {"data":{"name":"cvs"},"mark":{"type":"tick","orient":"horizontal","color":"black","thickness":3,"size":12,"opacity":1},"encoding":{"x":{"field":"c","type":"nominal"},"y":{"field":"lo","type":"quantitative"}}},
  {"data":{"name":"cvs"},"mark":{"type":"tick","orient":"horizontal","color":"black","thickness":3,"size":12,"opacity":1},"encoding":{"x":{"field":"c","type":"nominal"},"y":{"field":"hi","type":"quantitative"}}}
 ]}
],"spacing":0,"bounds":"flush"}
],"spacing":16.6}
]
}
